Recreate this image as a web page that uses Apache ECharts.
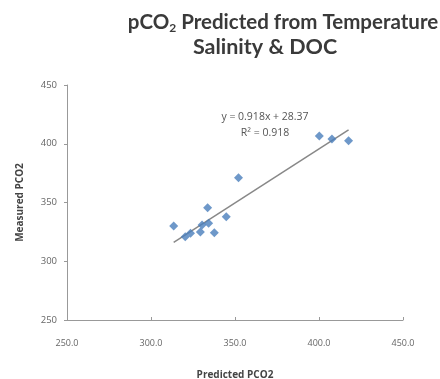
<!DOCTYPE html>
<html><head><meta charset="utf-8">
<script src="https://cdn.jsdelivr.net/npm/echarts@6/dist/echarts.min.js"></script>
<style>html,body{margin:0;padding:0;background:#fff}#c{width:440px;height:379px}</style>
</head><body><div id="c"></div>
<script>
const predicted = [313.5, 320.4, 323.5, 329.4, 330.4, 333.7, 334.3, 337.7, 344.8, 352.1, 400.2, 407.7, 417.6];
const measured  = [330.0, 320.9, 323.8, 325.0, 330.9, 345.6, 332.3, 324.3, 337.9, 371.1, 406.6, 404.0, 402.6];
const slope = 0.918, intercept = 28.37;
const trendX = [313.5, 417.6];
const xTicks = [250, 300, 350, 400, 450];
const yTicks = [250, 300, 350, 400, 450];

const points = predicted.map((x, i) => [x, measured[i]]);
const trend = trendX.map(x => [x, slope * x + intercept]);
const font = 'Open Sans, Liberation Sans, sans-serif';
const tfont = 'Lato, Open Sans, sans-serif';

const chart = echarts.init(document.getElementById('c'), null, {renderer: 'canvas'});
chart.setOption({
  animation: false,
  backgroundColor: '#fff',
  graphic: [
    {type: 'text', x: 283, y: 22, z: 10,
     style: {text: '{a|pCO}{s|2}{a| Predicted from Temperature}', textAlign: 'center', textVerticalAlign: 'middle',
       rich: {a: {fontFamily: tfont, fontWeight: 'bold', fontSize: 20.5, fill: '#3a3a3a'},
              s: {fontFamily: tfont, fontWeight: 'bold', fontSize: 12, fill: '#3a3a3a', padding: [12, 0, 0, 0]}}}},
    {type: 'text', x: 265, y: 47, z: 10,
     style: {text: 'Salinity & DOC', textAlign: 'center', textVerticalAlign: 'middle',
       fontFamily: tfont, fontWeight: 'bold', fontSize: 21.5, fill: '#3a3a3a'}},
    {type: 'text', x: 265, y: 117, z: 10,
     style: {text: 'y = 0.918x + 28.37', fontFamily: font, fontSize: 10.5, fill: '#555', textAlign: 'center', textVerticalAlign: 'middle'}},
    {type: 'text', x: 265, y: 133, z: 10,
     style: {text: 'R² = 0.918', fontFamily: font, fontSize: 10.5, fill: '#555', textAlign: 'center', textVerticalAlign: 'middle'}}
  ],
  grid: {left: 67, right: 37, top: 85, bottom: 59, containLabel: false, outerBoundsMode: 'none'},
  xAxis: {
    type: 'value', min: xTicks[0], max: xTicks[xTicks.length - 1], interval: 50,
    name: 'Predicted PCO2', nameLocation: 'middle', nameGap: 50,
    nameTextStyle: {fontFamily: font, fontWeight: 'bold', fontSize: 10, color: '#444'},
    axisLine: {lineStyle: {color: '#999'}},
    axisTick: {show: true, length: 3, inside: true, lineStyle: {color: '#999'}},
    axisLabel: {fontFamily: font, fontSize: 9, color: '#666', margin: 19, formatter: v => v.toFixed(1)},
    splitLine: {show: false}
  },
  yAxis: {
    type: 'value', min: yTicks[0], max: yTicks[yTicks.length - 1], interval: 50,
    name: 'Measured PCO2', nameLocation: 'middle', nameGap: 42, nameRotate: 90,
    nameTextStyle: {fontFamily: font, fontWeight: 'bold', fontSize: 10, color: '#444'},
    axisLine: {show: true, lineStyle: {color: '#999'}},
    axisTick: {show: true, length: 3, lineStyle: {color: '#999'}},
    axisLabel: {fontFamily: font, fontSize: 9.5, color: '#666', margin: 10},
    splitLine: {show: false}
  },
  series: [
    {type: 'line', data: trend, symbol: 'none', lineStyle: {color: '#888', width: 1.5}, z: 1, silent: true},
    {type: 'scatter', data: points, symbol: 'diamond', symbolSize: 9,
     itemStyle: {color: '#4a7ebb'}, z: 2}
  ]
});
</script></body></html>
